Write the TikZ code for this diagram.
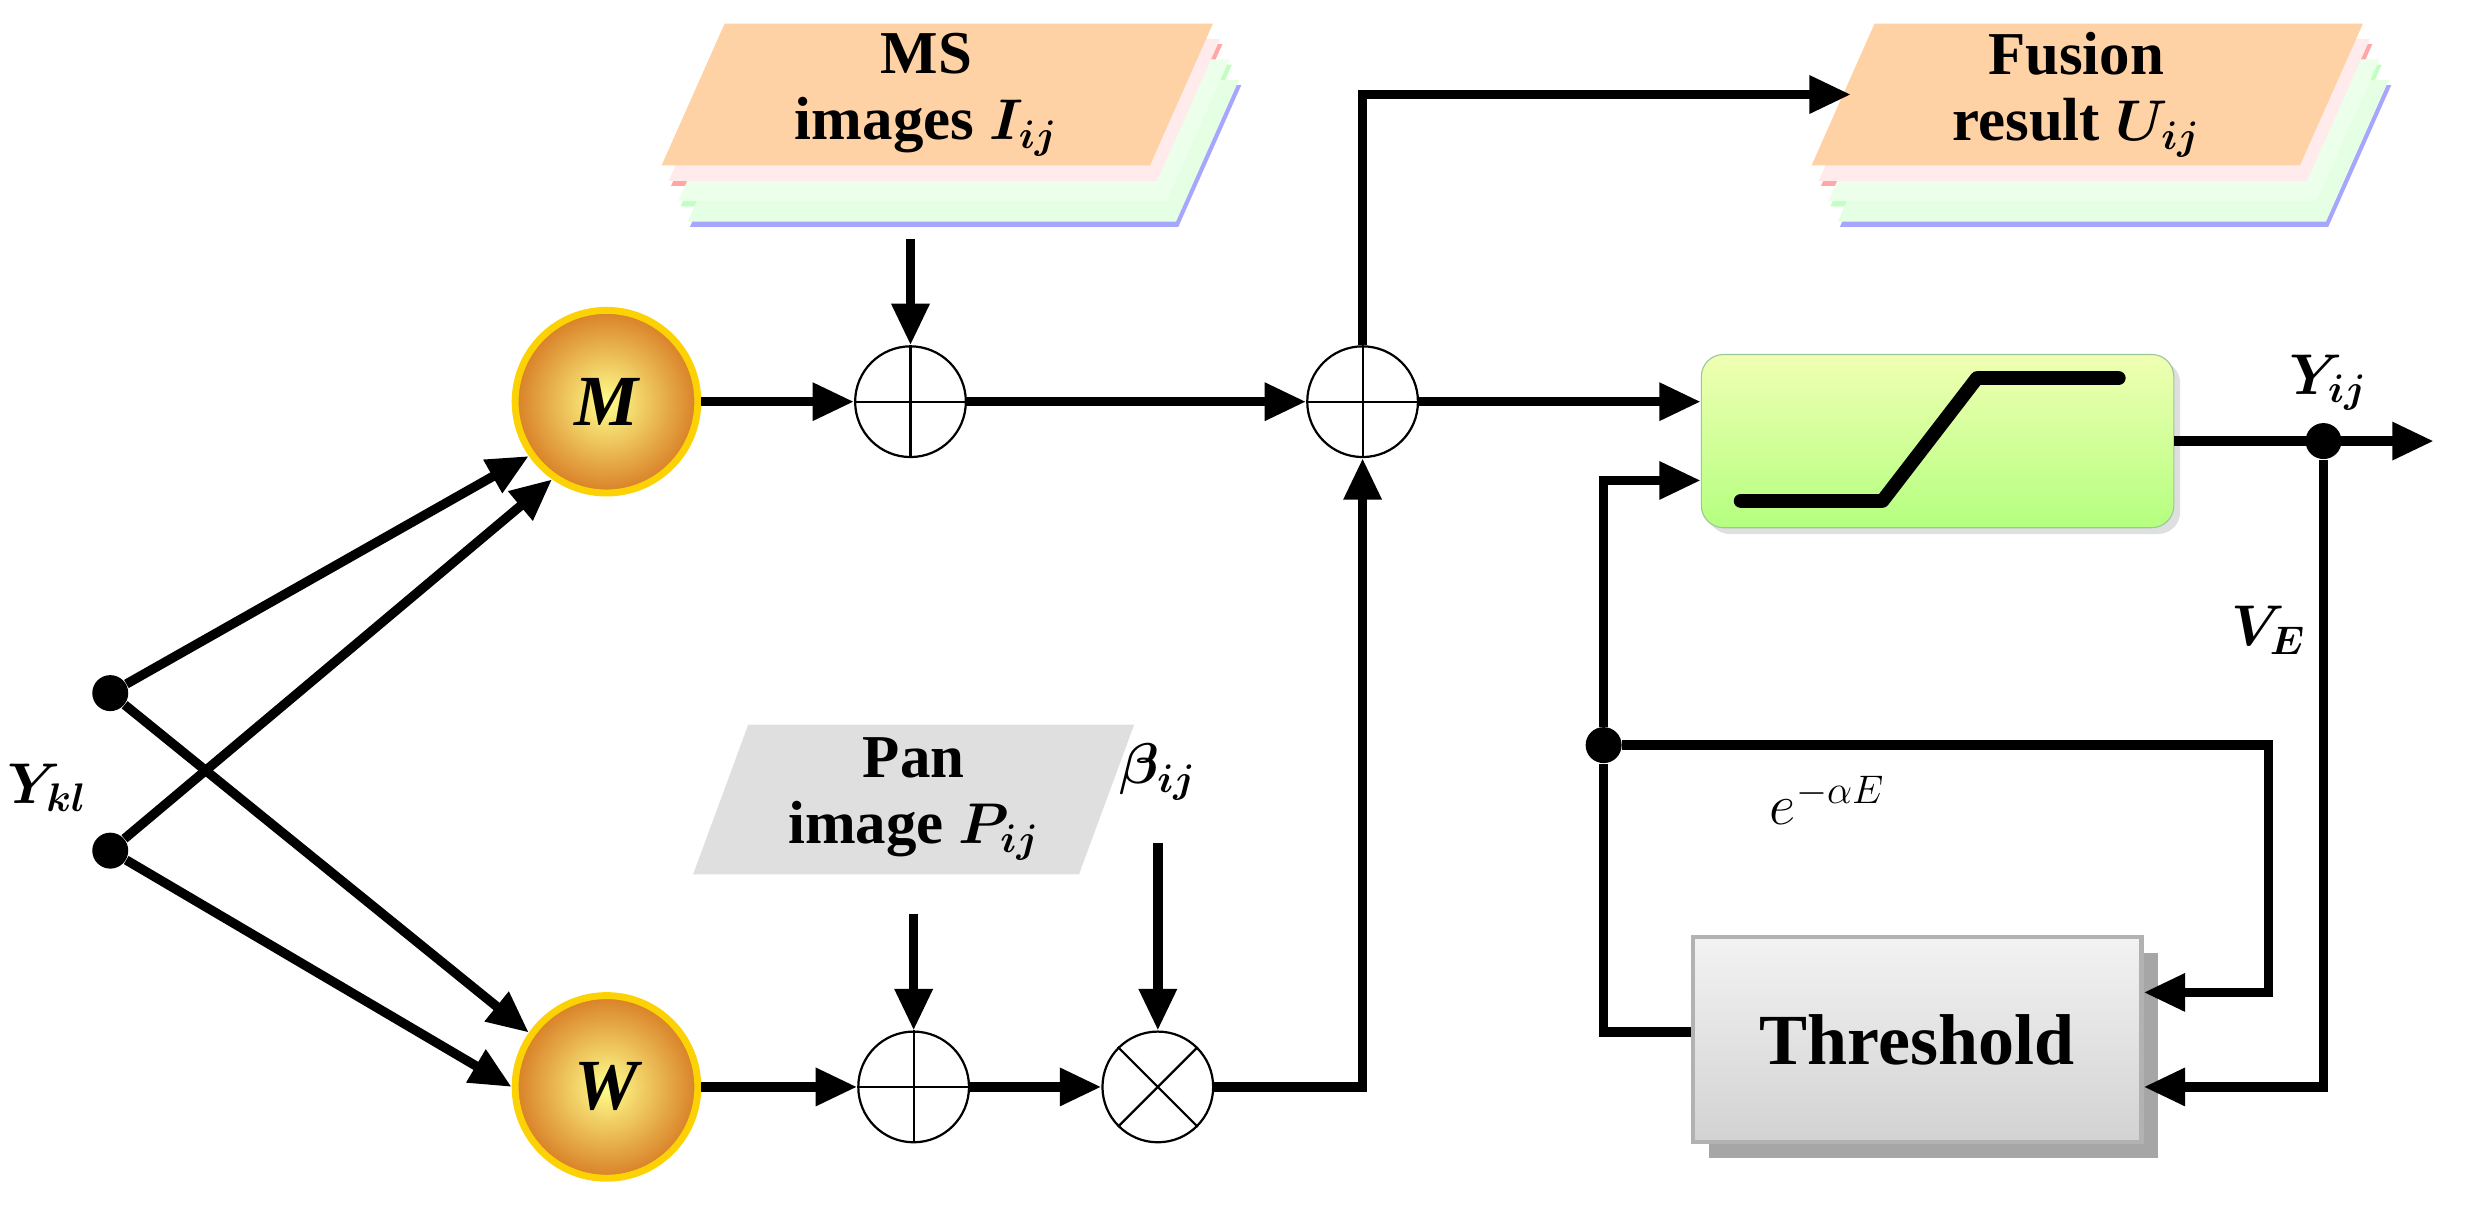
\documentclass[tikz,border=0pt]{standalone}
\usepackage{bm}
\usepackage{fontspec}
\setmainfont{Liberation Serif}
\usetikzlibrary{arrows.meta,shadows,calc}
\tikzset{
  flow/.style={line width=3.4pt,-{Triangle[length=15pt,width=13pt]}},
  wire/.style={line width=3.4pt},
  junc/.style={circle,fill=black,inner sep=0pt,minimum size=13pt},
  op/.style={circle,draw,thick,fill=white,minimum size=40pt,inner sep=0pt},
  coin/.style={circle,draw=yellow!70!orange,line width=2.5pt,minimum size=66pt,inner sep=0pt,
    inner color=yellow!45,outer color=brown!60!orange,font=\fontsize{26}{28}\selectfont\bfseries\itshape},
  lbl/.style={font=\fontsize{22}{24}\selectfont\bfseries}
}
\newcommand{\plusop}[1]{\draw[thick](#1.north)--(#1.south)(#1.west)--(#1.east);}
\newcommand{\multop}[1]{\draw[thick](#1.north west)--(#1.south east)(#1.north east)--(#1.south west);}
\newcommand{\stackimg}[2]{%
  \foreach \d/\c in {3/blue!35,2/green!25,1/red!35}
    \fill[\c] ($(#1)+(6*\d,13*\d)$) -- ++(40,-90) -- ++(310,0) -- ++(-40,90) -- cycle;
  \foreach \d/\c in {2.75/green!10,1.75/green!8,0.75/red!8}
    \fill[\c] ($(#1)+(6*\d,13*\d)$) -- ++(40,-90) -- ++(310,0) -- ++(-40,90) -- cycle;
  \fill[#2] (#1) -- ++(40,-90) -- ++(310,0) -- ++(-40,90) -- cycle;}
\begin{document}
\begin{tikzpicture}[x=0.02cm,y=-0.02cm]
\useasboundingbox (0,0) rectangle (1568,767);
% image stacks
\stackimg{420,105}{orange!35}
\stackimg{1150,105}{orange!35}
\node[lbl,align=center] (ms) at (588,60) {MS\\images $\bm{I_{ij}}$};
\node[lbl,align=center] (fus) at (1318,60) {Fusion\\result $\bm{U_{ij}}$};
\coordinate (msb) at (578,152);
\coordinate (fusl) at (1175,60);
\fill[gray!25] (440,555)--(475,460)--(720,460)--(685,555)--cycle;
\node[lbl,align=center] (pan) at (580,507) {Pan\\image $\bm{P_{ij}}$};
\coordinate (panb) at (580,580);
% operators
\node[coin] (m) at (385,255) {M};
\node[coin] (w) at (385,690) {W};
\node[op] (s1) at (578,255) {}; \plusop{s1}
\node[op] (s2) at (865,255) {}; \plusop{s2}
\node[op] (s3) at (580,690) {}; \plusop{s3}
\node[op] (x1) at (735,690) {}; \multop{x1}
\node[lbl] (beta) at (735,490) {$\bm{\beta_{ij}}$};
\coordinate (betab) at (735,535);
% inputs
\node[lbl] (ykl) at (30,500) {$\bm{Y_{kl}}$};
\node[junc] (j1) at (70,440) {};
\node[junc] (j2) at (70,540) {};
\draw[flow] (j1) -- (m.215);
\draw[flow] (j1) -- (w.145);
\draw[flow] (j2) -- (m.235);
\draw[flow] (j2) -- (w.180);
% blocks
\node[draw=green!45!black!40,rounded corners=8pt,
  top color=green!20!yellow!30,bottom color=green!45!lime!50,
  minimum width=6cm,minimum height=2.2cm,drop shadow={opacity=0.25}] (pcnn) at (1230,280) {};
\draw[line width=5pt,line cap=round,line join=round] (1105,318)--(1195,318)--(1255,240)--(1345,240);
\fill[gray!70] (1085,605) rectangle (1370,735);
\node[draw=gray!60,line width=1.5pt,top color=gray!10,bottom color=gray!35,
  minimum width=5.7cm,minimum height=2.6cm,font=\fontsize{26}{28}\selectfont\bfseries] (thr) at (1217,660) {Threshold};
% connections
\draw[flow] (m) -- (s1);
\draw[flow] (msb) -- (s1);
\draw[flow] (s1) -- (s2);
\draw[flow] (s2.north) |- (fusl);
\draw[flow] (s2) -- (pcnn.west |- s2);
\draw[flow] (w) -- (s3);
\draw[flow] (panb) -- (s3);
\draw[flow] (s3) -- (x1);
\draw[flow] (betab) -- (x1);
\draw[flow] (x1) -| (s2.south);
\coordinate (out) at (1545,280);
\node[junc] (j3) at (1475,280) {};
\draw[flow] (pcnn.east |- out) -- (out);
\node[lbl] (yij) at (1478,243) {$\bm{Y_{ij}}$};
\node[lbl] (ve) at (1440,400) {$\bm{V_E}$};
\draw[flow] (j3) |- (thr.east |- 0,690);
\node[junc] (j4) at (1018,473) {};
\draw[wire] (thr.west |- 0,655) -| (j4);
\draw[flow] (j4) |- (pcnn.west |- 0,305);
\draw[flow] (j4) -| (1440,630) -- (thr.east |- 0,630);
\node[font=\fontsize{20}{22}\selectfont] (ea) at (1160,508) {$e^{-\alpha E}$};
\end{tikzpicture}
\end{document}
